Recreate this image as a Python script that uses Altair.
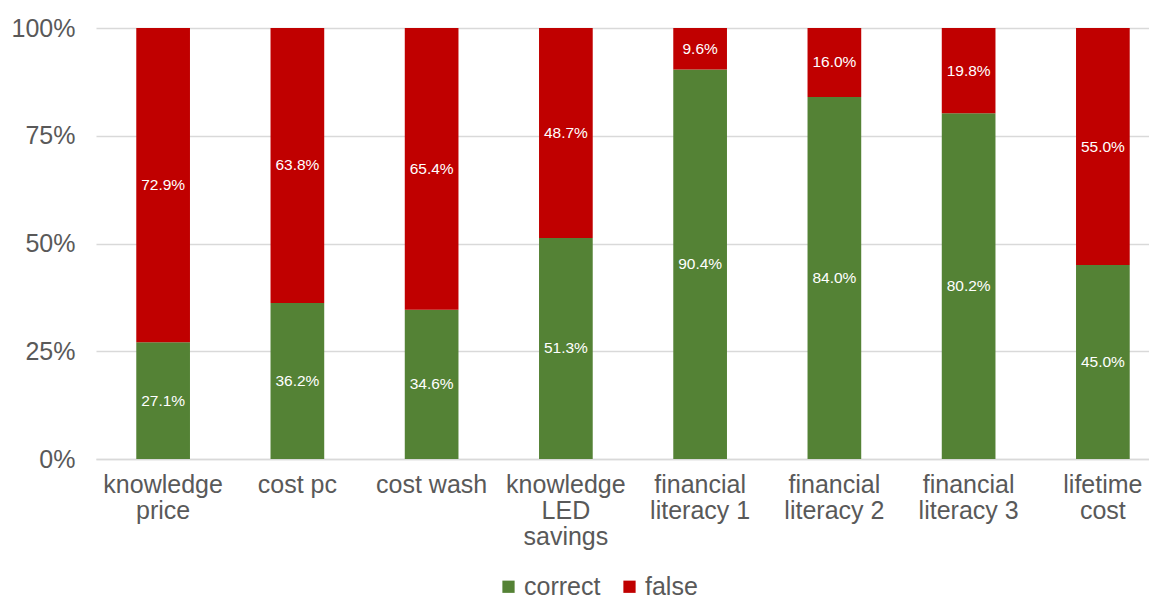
import altair as alt
import pandas as pd

categories = ["knowledge|price", "cost pc", "cost wash", "knowledge|LED|savings",
              "financial|literacy 1", "financial|literacy 2", "financial|literacy 3", "lifetime|cost"]
correct = [27.1, 36.2, 34.6, 51.3, 90.4, 84.0, 80.2, 45.0]
false_ = [72.9, 63.8, 65.4, 48.7, 9.6, 16.0, 19.8, 55.0]
series = ["correct", "false"]
colors = ["#548235", "#C00000"]

rows = []
for c, a, b in zip(categories, correct, false_):
    rows.append({"cat": c, "series": "correct", "value": a / 100, "ord": 0})
    rows.append({"cat": c, "series": "false", "value": b / 100, "ord": 1})
df = pd.DataFrame(rows)

FONT = "Liberation Sans"

x = alt.X("cat:N", sort=categories,
          scale=alt.Scale(range=[0, 1074], paddingInner=0.6, paddingOuter=0.3),
          axis=alt.Axis(title=None, labelAngle=0, ticks=False, domainColor="#d9d9d9",
                        domainWidth=1.5, labelFontSize=25, labelColor="#595959",
                        labelFont=FONT, labelPadding=13, labelLineHeight=26,
                        labelExpr="split(datum.value, '|')"))

base = alt.Chart(df).transform_stack(
    stack="value", groupby=["cat"], as_=["y0", "y1"],
    sort=[alt.SortField("ord", order="ascending")]
).transform_calculate(mid="(datum.y0 + datum.y1) / 2")

bars = base.mark_bar().encode(
    x=x,
    y=alt.Y("y0:Q", scale=alt.Scale(domain=[0, 1]),
            axis=alt.Axis(title=None, format=".0%", values=[0, 0.25, 0.5, 0.75, 1],
                          domain=False, ticks=False, gridColor="#d9d9d9", gridWidth=1.5,
                          labelFontSize=25, labelColor="#595959", labelFont=FONT,
                          labelPadding=21)),
    y2="y1:Q",
    color=alt.Color("series:N", scale=alt.Scale(domain=series, range=colors),
                    legend=alt.Legend(title=None, orient="none", legendX=400, legendY=546,
                                      direction="horizontal", symbolType="square",
                                      symbolSize=150, symbolStrokeWidth=0,
                                      labelFontSize=25, labelColor="#595959", labelFont=FONT,
                                      labelOffset=3, columnPadding=16)),
)

texts = base.mark_text(color="white", fontSize=15.5, font=FONT, baseline="middle").encode(
    x=alt.X("cat:N", sort=categories),
    y=alt.Y("mid:Q"),
    text=alt.Text("value:Q", format=".1%"),
)

chart = (bars + texts).properties(
    width=1053, height=431,
    autosize=alt.AutoSizeParams(type="none"),
    padding={"left": 88, "top": 20, "right": 0, "bottom": 142},
).configure_view(stroke=None)

chart.save("out.html", embed_options={"renderer": "svg", "actions": False})
